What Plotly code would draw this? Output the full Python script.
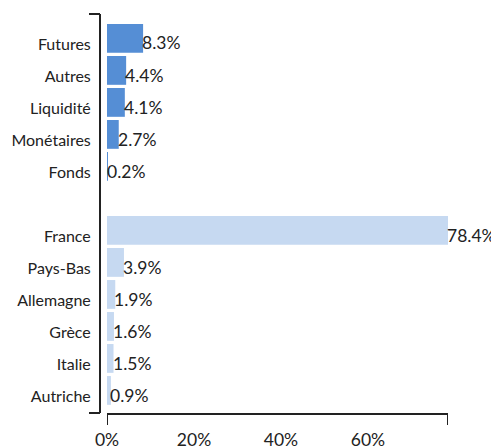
import plotly.graph_objects as go

# Data
instruments = ["Futures", "Autres", "Liquidité", "Monétaires", "Fonds"]
instrument_values = [8.3, 4.4, 4.1, 2.7, 0.2]
countries = ["France", "Pays-Bas", "Allemagne", "Grèce", "Italie", "Autriche"]
country_values = [78.4, 3.9, 1.9, 1.6, 1.5, 0.9]
x_tick_values = [0, 20, 40, 60]
x_tick_labels = ["0%", "20%", "40%", "60%"]

W, H = 499, 448
OFF = 8  # page body margin
GAP = " "
categories = instruments + [GAP] + countries
xmax = max(instrument_values + country_values)

FONT = "Lato"
TXT = "#222222"
LINE = "#222222"

x_dom = [(107 - OFF) / W, (448 - OFF) / W]
y_dom = [(H - (413 - OFF)) / H, (H - (14 - OFF)) / H]
yline_x = (100 - OFF) / W
ytick_x0 = (89 - OFF) / W

fig = go.Figure()

bar_kw = dict(orientation="h", width=0.9, offset=-0.625, hoverinfo="skip", marker_line_width=0)
fig.add_trace(go.Bar(y=instruments, x=instrument_values, marker_color="#558ED5", **bar_kw))
fig.add_trace(go.Bar(y=countries, x=country_values, marker_color="#C6D9F1", **bar_kw))

all_vals = instrument_values + country_values
all_cats = instruments + countries
for cat, v in zip(all_cats, all_vals):
    fig.add_annotation(
        x=v, y=cat, xref="x", yref="y",
        text=f"{v:.1f}%", showarrow=False,
        xanchor="left", yanchor="middle", borderpad=0,
        xshift=-2, yshift=1,
        font=dict(family=FONT, size=17.5, color=TXT),
    )

fig.update_layout(
    width=W, height=H,
    margin=dict(l=0, r=0, t=0, b=0, autoexpand=False),
    paper_bgcolor="white", plot_bgcolor="white",
    showlegend=False,
    barmode="overlay",
    font=dict(family=FONT, size=16, color=TXT),
    xaxis=dict(
        domain=x_dom, range=[0, xmax], automargin=False,
        showgrid=False, zeroline=False,
        showline=True, linecolor=LINE, linewidth=2,
        tickmode="array", tickvals=x_tick_values, ticktext=x_tick_labels,
        ticks="outside", ticklen=10, tickcolor="rgba(0,0,0,0)",
        tickfont=dict(family=FONT, size=17.5, color=TXT),
        fixedrange=True,
    ),
    yaxis=dict(
        domain=y_dom, automargin=False,
        type="category", categoryorder="array", categoryarray=categories,
        range=[len(categories) - 1 + 0.53, -0.9375],
        anchor="free", position=yline_x,
        showgrid=False, zeroline=False,
        showline=True, linecolor=LINE, linewidth=2,
        ticks="outside", ticklen=5, tickcolor="rgba(0,0,0,0)",
        tickfont=dict(family=FONT, size=16, color=TXT),
        fixedrange=True,
    ),
)

shapes = []
for xv in [0, xmax]:
    shapes.append(dict(type="line", xref="x", yref="paper",
                       x0=xv, x1=xv, y0=y_dom[0], y1=y_dom[0] - 12 / H,
                       line=dict(color=LINE, width=2)))
for yv in y_dom:
    shapes.append(dict(type="line", xref="paper", yref="paper",
                       x0=ytick_x0, x1=yline_x, y0=yv, y1=yv,
                       line=dict(color=LINE, width=2)))
fig.update_layout(shapes=shapes)

fig.write_html("out.html")
